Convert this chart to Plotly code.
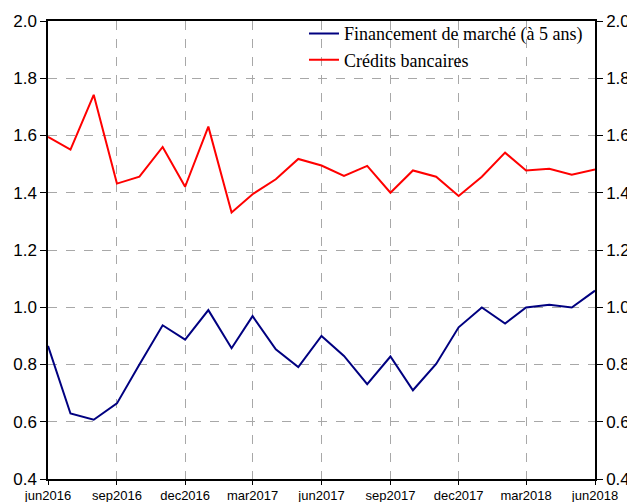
import plotly.graph_objects as go
import pandas as pd

months = pd.date_range("2016-06-01", "2018-06-01", freq="MS").strftime("%Y-%m-%d").tolist()

financement_marche = [0.865, 0.629, 0.607, 0.664, 0.800, 0.937, 0.887, 0.990, 0.857, 0.969,
                      0.853, 0.791, 0.900, 0.830, 0.731, 0.828, 0.710, 0.802, 0.930, 0.999,
                      0.943, 0.999, 1.009, 0.999, 1.058]
credits_bancaires = [1.595, 1.551, 1.742, 1.432, 1.456, 1.560, 1.421, 1.631, 1.331, 1.395,
                     1.447, 1.518, 1.495, 1.459, 1.494, 1.400, 1.478, 1.456, 1.389, 1.456,
                     1.540, 1.478, 1.484, 1.463, 1.481]

tick_dates = ["2016-06-01", "2016-09-01", "2016-12-01", "2017-03-01", "2017-06-01",
              "2017-09-01", "2017-12-01", "2018-03-01", "2018-06-01"]
tick_labels = ["jun2016", "sep2016", "dec2016", "mar2017", "jun2017",
               "sep2017", "dec2017", "mar2018", "jun2018"]
y_ticks = [0.4, 0.6, 0.8, 1.0, 1.2, 1.4, 1.6, 1.8, 2.0]
y_labels = ["0.4", "0.6", "0.8", "1.0", "1.2", "1.4", "1.6", "1.8", "2.0"]

fig = go.Figure()
fig.add_trace(go.Scatter(x=months, y=financement_marche, mode="lines",
                         name="Financement de marché (à 5 ans)",
                         line=dict(color="#000080", width=2)))
fig.add_trace(go.Scatter(x=months, y=credits_bancaires, mode="lines",
                         name="Crédits bancaires",
                         line=dict(color="#ff0000", width=2)))
fig.add_trace(go.Scatter(x=months, y=credits_bancaires, yaxis="y2", mode="lines",
                         showlegend=False, hoverinfo="skip",
                         line=dict(color="rgba(0,0,0,0)", width=0)))

axis_font = dict(family="Liberation Sans, Arial, sans-serif", color="black")

# the page body has an 8px default margin, so the figure is sized to fit inside 635x502
fig.update_layout(
    width=627, height=494,
    margin=dict(l=40, r=40, t=13, b=23, autoexpand=False),
    plot_bgcolor="white", paper_bgcolor="white",
    showlegend=True,
    legend=dict(x=0.468, y=1.0127, xanchor="left", yanchor="top",
                bgcolor="rgba(0,0,0,0)", borderwidth=0,
                font=dict(family="Liberation Serif, Times New Roman, serif", size=18, color="black"),
                itemwidth=30, tracegroupgap=0),
    xaxis=dict(range=["2016-06-01", "2018-06-01"], tickvals=tick_dates, ticktext=tick_labels,
               tickfont=dict(size=13, **axis_font), showgrid=True, gridcolor="#a8a8a8",
               griddash="dash", gridwidth=1, showline=True, linecolor="black", linewidth=1.5,
               mirror=True, ticks="outside", ticklen=4, tickcolor="black", zeroline=False,
               automargin=False),
    yaxis=dict(range=[0.4, 2.0], tickvals=y_ticks, ticktext=y_labels,
               tickfont=dict(size=17, **axis_font), showgrid=True, gridcolor="#a8a8a8",
               griddash="dash", gridwidth=1, showline=True, linecolor="black", linewidth=1.5,
               ticks="outside", ticklen=6, tickcolor="black", zeroline=False, automargin=False),
    yaxis2=dict(range=[0.4, 2.0], tickvals=y_ticks, ticktext=y_labels, overlaying="y", side="right",
                tickfont=dict(size=17, **axis_font), showgrid=False, showline=True,
                linecolor="black", linewidth=1.5, ticks="outside", ticklen=6, tickcolor="black",
                zeroline=False, automargin=False),
)

fig.write_html("out.html")
